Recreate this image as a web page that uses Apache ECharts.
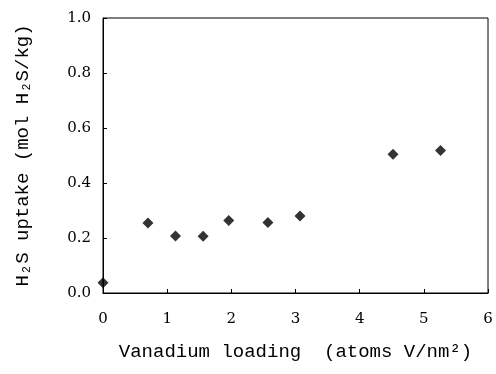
<!DOCTYPE html>
<html>
<head>
<meta charset="utf-8">
<script src="https://cdn.jsdelivr.net/npm/echarts@6/dist/echarts.min.js"></script>
<style>
html,body{margin:0;padding:0;background:#fff;}
#main{width:496px;height:374px;}
</style>
</head>
<body>
<div id="main"></div>
<script>
// vanadium loading (atoms V/nm2) vs H2S uptake (mol H2S/kg)
var loading = [0.0, 0.70, 1.13, 1.56, 1.96, 2.57, 3.07, 4.52, 5.26];
var uptake = [0.037, 0.255, 0.207, 0.206, 0.264, 0.256, 0.280, 0.505, 0.518];

var points = [];
for (var i = 0; i < loading.length; i++) {
	points.push([loading[i], uptake[i]]);
}

var chart = echarts.init(document.getElementById('main'));
var tickFont = {color:'#000', fontFamily:'DejaVu Serif', fontSize:15};
var titleFont = {color:'#000', fontFamily:'Liberation Mono', fontSize:19};

chart.setOption({
	animation:false,
	backgroundColor:'#fff',
	grid:{left:103, right:8, top:18, bottom:81, show:true, borderColor:'#000', borderWidth:1, backgroundColor:'transparent'},
	xAxis:{
		type:'value', min:0, max:6, interval:1,
		name:'Vanadium loading  (atoms V/nm²)',
		nameLocation:'middle', nameGap:49,
		nameTextStyle:titleFont,
		axisLine:{show:true, lineStyle:{color:'#000', width:1}},
		axisTick:{show:true, inside:true, length:4, lineStyle:{color:'#000'}},
		axisLabel:Object.assign({margin:19}, tickFont),
		splitLine:{show:false}
	},
	yAxis:{
		type:'value', min:0, max:1, interval:0.2,
		name:'H₂S uptake (mol H₂S/kg)',
		nameLocation:'middle', nameGap:71,
		nameTextStyle:titleFont,
		axisLine:{show:true, lineStyle:{color:'#000', width:1}},
		axisTick:{show:true, inside:true, length:4, lineStyle:{color:'#000'}},
		axisLabel:Object.assign({margin:12, formatter:function(v){return v.toFixed(1);}}, tickFont),
		splitLine:{show:false}
	},
	series:[{
		type:'scatter',
		data:points,
		symbol:'diamond',
		symbolSize:11,
		clip:false,
		itemStyle:{color:'#000'}
	}]
});
</script>
</body>
</html>
